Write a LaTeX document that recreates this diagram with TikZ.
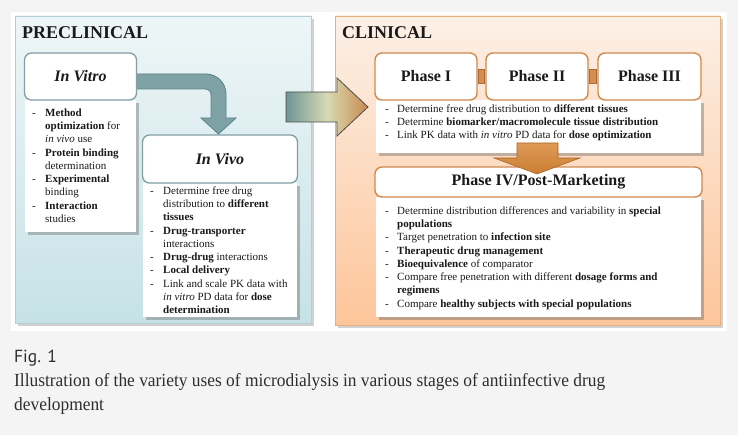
\documentclass[tikz,border=0pt]{standalone}
\usepackage{fontspec}
\setmainfont{Liberation Serif}
\newfontfamily\capserif[FakeStretch=0.94]{Liberation Serif}
\newfontfamily\capsans{PT Sans}
\usetikzlibrary{shadows,calc}
\definecolor{pagebg}{HTML}{F4F4F4}
\definecolor{pretop}{HTML}{EEF6F7}
\definecolor{prebot}{HTML}{C6E2E7}
\definecolor{preline}{HTML}{B4CFD3}
\definecolor{clintop}{HTML}{FCF0E6}
\definecolor{clinbot}{HTML}{FDC59A}
\definecolor{clinline}{HTML}{E3B07E}
\definecolor{vitroline}{HTML}{819FA4}
\definecolor{phaseline}{HTML}{CF8A4C}
\definecolor{barfill}{HTML}{D68D4E}
\definecolor{curvefill}{HTML}{7EA2A6}
\definecolor{curveline}{HTML}{5C8287}
\definecolor{bigA}{HTML}{6D9696}
\definecolor{bigB}{HTML}{D7DAB3}
\definecolor{bigC}{HTML}{C98A4E}
\definecolor{downtop}{HTML}{DE9A55}
\definecolor{downbot}{HTML}{CB7E33}
\definecolor{downline}{HTML}{A8672A}
\definecolor{txt}{HTML}{1A1A1A}
\definecolor{captxt}{HTML}{2E2E2E}
\newcommand\dsh{\makebox[13pt][l]{-}}
\newcommand\ind{\hspace*{13pt}}
\newcommand\dshb{\makebox[12pt][l]{-}}
\newcommand\indb{\hspace*{12pt}}
\tikzset{
  boxshadow/.style={drop shadow={opacity=0.4,shadow xshift=2.5pt,shadow yshift=-2.5pt,fill=black!60}},
  contentbox/.style={fill=white,draw=none,inner sep=0pt,anchor=north west,boxshadow},
  vitrohead/.style={draw=vitroline,line width=1.3pt,fill=white,rounded corners=7pt,inner sep=0pt,
    font=\fontsize{16}{18}\selectfont\bfseries\itshape,text=txt},
  phasehead/.style={draw=phaseline,line width=1.4pt,fill=white,rounded corners=7pt,inner sep=0pt,
    font=\fontsize{16}{18}\selectfont\bfseries,text=txt},
  listtext/.style={anchor=north west,inner sep=0pt,align=left,text=txt,
    font=\fontsize{11}{13.25}\selectfont},
  paneltitle/.style={anchor=base west,inner sep=0pt,text=txt,font=\fontsize{18}{20}\selectfont\bfseries},
}
\begin{document}
\begin{tikzpicture}[x=1pt,y=-1pt]
\useasboundingbox (0,0) rectangle (738,435);
\fill[pagebg] (0,0) rectangle (738,435);
\fill[white] (11,12) rectangle (727,331);

% panels
\fill[black!40,opacity=0.45] (18,19) rectangle (314,326);
\shade[top color=pretop,bottom color=prebot,draw=preline,line width=0.6pt] (15,16) rectangle (311,323);
\fill[black!40,opacity=0.45] (338,19) rectangle (723,328);
\shade[top color=clintop,bottom color=clinbot,draw=clinline,line width=0.6pt] (335,16) rectangle (720,325);
\node[paneltitle] (pretitle) at (22,38.5) {PRECLINICAL};
\node[paneltitle] (clintitle) at (342,38.5) {CLINICAL};

% curved arrow In Vitro -> In Vivo
\draw[fill=curvefill,draw=curveline,line width=0.8pt]
  (130,74) -- (206,74) .. controls (217,74) and (226,83) .. (226,94) -- (226,118) -- (236,118)
  -- (218.5,134) -- (201,118) -- (211,118) -- (211,95) .. controls (211,91.5) and (209,89) .. (205,89)
  -- (130,89) -- cycle;

% In Vitro
\node[contentbox,minimum width=111pt,minimum height=132pt] (vitroC) at (25,100) {};
\node[vitrohead,minimum width=112pt,minimum height=47pt] (vitroH) at (80.5,76.5) {In Vitro};
\node[listtext] (vitroT) at (32,108.5) {%
\dsh\textbf{Method}\\
\ind\textbf{optimization} for\\
\ind\textit{in vivo} use\\
\dsh\textbf{Protein binding}\\
\ind determination\\
\dsh\textbf{Experimental}\\
\ind binding\\
\dsh\textbf{Interaction}\\
\ind studies};

% In Vivo
\node[contentbox,minimum width=154pt,minimum height=134pt] (vivoC) at (143,183) {};
\node[vitrohead,minimum width=155pt,minimum height=48pt] (vivoH) at (220,159) {In Vivo};
\node[listtext] (vivoT) at (150,186.5) {%
\dsh Determine free drug\\
\ind distribution to \textbf{different}\\
\ind\textbf{tissues}\\
\dsh\textbf{Drug-transporter}\\
\ind interactions\\
\dsh\textbf{Drug-drug} interactions\\
\dsh\textbf{Local delivery}\\
\dsh Link and scale PK data with\\
\ind\textit{in vitro} PD data for \textbf{dose}\\
\ind\textbf{determination}};

% big arrow preclinical -> clinical
\shade[left color=bigA,right color=bigC,middle color=bigB,draw=black!70,line width=0.8pt]
  (286,92) -- (337,92) -- (337,78) -- (368,107) -- (337,136) -- (337,122) -- (286,122) -- cycle;

% Phases
\node[contentbox,minimum width=325pt,minimum height=53pt] (phC) at (376,100) {};
\node[phasehead,minimum width=102pt,minimum height=47pt] (p1) at (426,76.5) {Phase I};
\node[phasehead,minimum width=102pt,minimum height=47pt] (p2) at (537,76.5) {Phase II};
\node[phasehead,minimum width=103pt,minimum height=47pt] (p3) at (649.5,76.5) {Phase III};
\fill[barfill,draw=phaseline!80!black,line width=0.4pt] ($(p1.east)+(0.7,-7)$) rectangle ($(p2.west)+(-0.7,7)$);
\fill[barfill,draw=phaseline!80!black,line width=0.4pt] ($(p2.east)+(0.7,-7)$) rectangle ($(p3.west)+(-0.7,7)$);
\node[listtext] (phT) at (385,104.5) {%
\dshb Determine free drug distribution to \textbf{different tissues}\\
\dshb Determine \textbf{biomarker/macromolecule tissue distribution}\\
\dshb Link PK data with \textit{in vitro} PD data for \textbf{dose optimization}};

% Phase IV
\node[contentbox,minimum width=325pt,minimum height=120pt] (p4C) at (376,197) {};
\node[phasehead,minimum width=327pt,minimum height=30pt] (p4) at (538.5,182) {Phase IV/Post-Marketing};
\node[listtext] (p4T) at (385,206.5) {%
\dshb Determine distribution differences and variability in \textbf{special}\\
\indb\textbf{populations}\\
\dshb Target penetration to \textbf{infection site}\\
\dshb\textbf{Therapeutic drug management}\\
\dshb\textbf{Bioequivalence} of comparator\\
\dshb Compare free penetration with different \textbf{dosage forms and}\\
\indb\textbf{regimens}\\
\dshb Compare \textbf{healthy subjects with special populations}};

% down arrow phase III -> IV
\shade[top color=downtop,bottom color=downbot,draw=downline,line width=0.6pt]
  (517,143) -- (558,143) -- (558,158) -- (580,158) -- (537,174) -- (494,158) -- (517,158) -- cycle;

% caption
\node[anchor=base west,inner sep=0pt,text=captxt,font=\capsans\fontsize{17.5}{20}\selectfont] (fig) at (14,362) {Fig. 1};
\node[anchor=base west,inner sep=0pt,text=captxt,font=\capserif\fontsize{18.5}{24}\selectfont] (cap1) at (14,386) {Illustration of the variety uses of microdialysis in various stages of antiinfective drug};
\node[anchor=base west,inner sep=0pt,text=captxt,font=\capserif\fontsize{18.5}{24}\selectfont] (cap2) at (14,410) {development};
\end{tikzpicture}
\end{document}
